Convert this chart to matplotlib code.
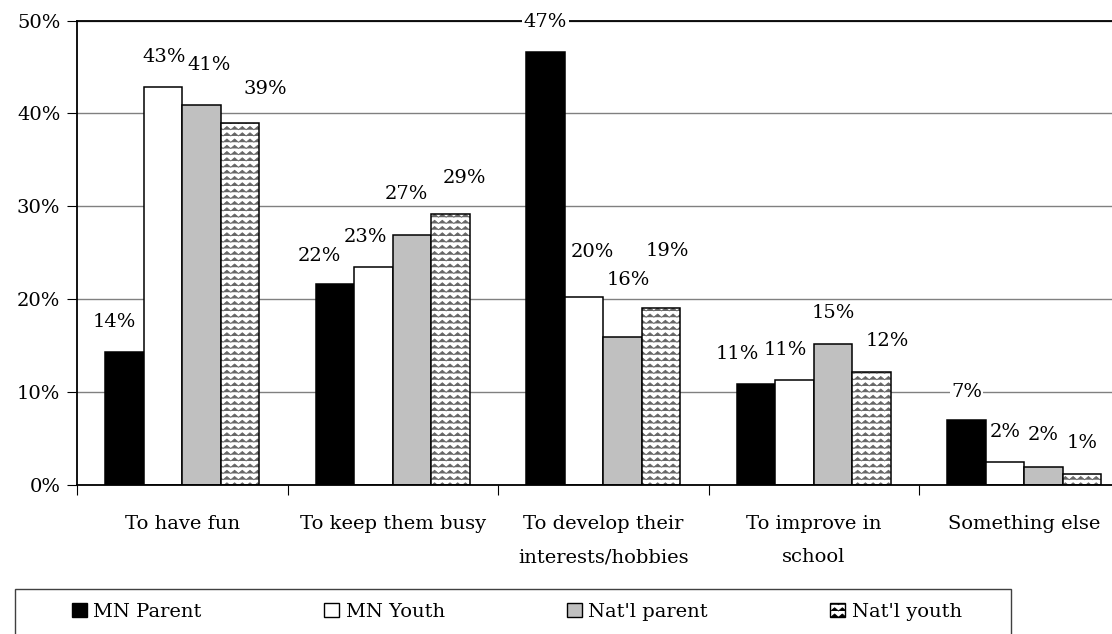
import numpy as np
import matplotlib
matplotlib.use("Agg")
import matplotlib.pyplot as plt
import matplotlib.hatch as mhatch
from matplotlib.path import Path
from matplotlib.patches import Patch, Rectangle

categories = ["To have fun", "To keep them busy", "To develop their\ninterests/hobbies",
              "To improve in\nschool", "Something else"]
series_names = ["MN Parent", "MN Youth", "Nat'l parent", "Nat'l youth"]
mn_parent = [14.3, 21.6, 46.6, 10.8, 7.0]
mn_youth = [42.8, 23.4, 20.2, 11.3, 2.4]
natl_parent = [40.9, 26.9, 15.9, 15.1, 1.9]
natl_youth = [39.0, 29.1, 19.0, 12.1, 1.1]
y_ticks = [0, 10, 20, 30, 40, 50]

# hand-placed data labels (pixel offsets of label centre from bar top centre)
label_dx = [[-10, -16, 0, -19, 0],
            [1, -8, 8, -9, 0],
            [8, -6, 6, 0, 0],
            [25, 14, 6, 16, 0]]
label_dy = [[30, 28, 30, 30, 28],
            [30, 30, 45, 30, 30],
            [40, 41, 57, 31, 32],
            [34, 36, 57, 31, 31]]

W, H = 1112, 634
FONT = 14


# zigzag hatch, triggered by the 'O' pattern
def zigzag_path(n_rows=16, n_per=13, amp=0.016):
    verts, codes = [], []
    xs = np.linspace(0, 1, 2 * n_per + 1)
    for r in range(n_rows):
        y0 = (r + 0.5) / n_rows
        for k, x in enumerate(xs):
            verts.append((x, y0 + (amp if k % 2 else -amp)))
            codes.append(Path.MOVETO if k == 0 else Path.LINETO)
    return Path(np.array(verts), codes)


_zz = zigzag_path()
_base_get_path = mhatch.get_path


def _get_path(pattern, density=6):
    if pattern == 'O':
        return _zz
    return _base_get_path(pattern, density)


mhatch.get_path = _get_path

plt.rcParams['font.family'] = ['DejaVu Serif']
plt.rcParams['hatch.linewidth'] = 0.6

fig = plt.figure(figsize=(W / 100, H / 100), dpi=100)
ax_l, ax_r, ax_b, ax_t = 77, 1129.5, 484.5, 20.5
ax = fig.add_axes([ax_l / W, 1 - ax_b / H, (ax_r - ax_l) / W, (ax_b - ax_t) / H])

all_series = [mn_parent, mn_youth, natl_parent, natl_youth]
faces = ['black', 'white', '#c0c0c0', 'white']
hatches = [None, None, None, 'O']
bw = 0.183
x = np.arange(len(categories))

for i, vals in enumerate(all_series):
    xpos = x + (i - 1.5) * bw
    if hatches[i]:
        ax.bar(xpos, vals, bw, color=faces[i], edgecolor='#666666', hatch=hatches[i],
               linewidth=0, zorder=2)
        ax.bar(xpos, vals, bw, fill=False, edgecolor='black', linewidth=1.1, zorder=2.1)
    else:
        ax.bar(xpos, vals, bw, color=faces[i], edgecolor='black', linewidth=1.1, zorder=2)
    for j, v in enumerate(vals):
        ax.annotate(f"{round(v):d}%", (xpos[j], v),
                    xytext=(label_dx[i][j], label_dy[i][j]), textcoords='offset pixels',
                    ha='center', va='center', fontsize=FONT, zorder=5,
                    bbox=dict(facecolor='white', edgecolor='none', pad=1.0))

ax.set_xlim(-0.5, len(categories) - 0.5)
ax.set_ylim(0, 50)
ax.set_yticks(y_ticks)
ax.set_yticklabels([f"{t}%" for t in y_ticks], fontsize=FONT)
ax.yaxis.grid(True, color='#808080', linewidth=1.0)
ax.set_axisbelow(True)

ax.set_xticks(np.arange(len(categories) + 1) - 0.5)
ax.set_xticklabels([])
ax.set_xticks(x, minor=True)
ax.set_xticklabels(categories, minor=True, fontsize=FONT, linespacing=2.1)
ax.tick_params(axis='x', which='major', length=7, width=0.8, direction='out')
ax.tick_params(axis='x', which='minor', length=0, pad=22)
ax.tick_params(axis='y', length=7, width=0.8, pad=5)
for s in ax.spines.values():
    s.set_color('black')
    s.set_linewidth(1.3)

# legend
handles = [Patch(facecolor=faces[i], edgecolor='black', hatch=hatches[i], linewidth=1.0)
           for i in range(4)]
fig.legend(handles, series_names, loc='center left', ncol=4, mode='expand',
           bbox_to_anchor=(72 / W, 1 - 625 / H, 890 / W, 26 / H),
           frameon=False, fontsize=FONT, handlelength=0.75, handleheight=0.75,
           handletextpad=0.35, borderaxespad=0, borderpad=0)
fig.patches.append(Rectangle((15 / W, 1 - 640 / H), 996 / W, 51 / H,
                             transform=fig.transFigure, fill=False,
                             edgecolor='#404040', linewidth=1.0))

fig.savefig("out.png", dpi=100)
